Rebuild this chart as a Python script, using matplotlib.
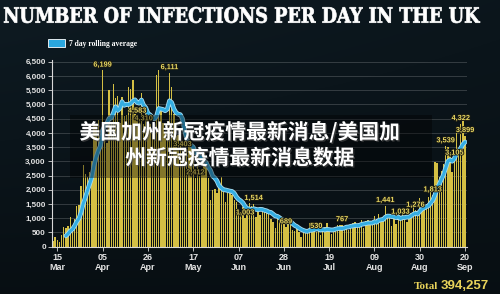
"""
Daily UK infections chart with a 7 day rolling average line.
"""

import numpy as np
import pandas as pd
import matplotlib
matplotlib.use("Agg")
import matplotlib.pyplot as plt
import matplotlib.dates as mdates
import matplotlib.patheffects as pe
from matplotlib.patches import Rectangle, PathPatch
from matplotlib.textpath import TextPath
from matplotlib.font_manager import FontProperties
from matplotlib.transforms import Affine2D


# Daily reported cases, one list per month (first day 13 Mar 2020)
START_DATE = "2020-03-13"
MAR_CASES = [208, 342, 251, 152, 407, 676, 643, 714, 1035, 665, 967, 1427,
             1452, 2129, 2885, 2546, 2433, 2619, 3009]
APR_CASES = [4324, 4244, 4450, 3735, 6199, 3802, 3634, 5491, 4344, 5706,
             5234, 5288, 4342, 5252, 4603, 4617, 5599, 5526, 5850, 4676,
             4583, 4451, 5386, 4310, 4913, 4463, 4301, 3996, 4076, 6032]
MAY_CASES = [6201, 4806, 4339, 3985, 4406, 6111, 5614, 4649, 3896, 3923,
             3877, 3403, 3242, 3446, 3560, 3451, 3534, 2412, 3412, 2472,
             2615, 3287, 2959, 2409, 1625, 2004, 2013, 1887, 2095, 2445, 1936]
JUN_CASES = [1570, 1871, 1871, 1805, 1650, 1557, 1326, 1205, 1387, 1003,
             1266, 1541, 1425, 1514, 1056, 1279, 1115, 1218, 1346, 1295,
             1221, 958, 874, 653, 1118, 1006, 890, 901, 689, 814]
JUL_CASES = [829, 576, 544, 624, 516, 352, 581, 630, 512, 820, 650, 650,
             530, 538, 404, 642, 687, 827, 580, 445, 560, 579, 769, 768,
             767, 688, 685, 581, 763, 846, 880]
AUG_CASES = [744, 743, 938, 670, 892, 950, 871, 758, 1062, 816, 1148, 1009,
             1012, 1441, 1040, 1040, 713, 1089, 812, 1182, 1033, 1288, 1041,
             853, 1048, 1184, 1522, 1276, 1108, 1715, 1406]
SEP_CASES = [1295, 1508, 1735, 1940, 1813, 2988, 2948, 2460, 2659, 2919,
             3539, 3497, 3330, 2621, 3105, 3991, 3395, 4322, 4422, 3899]

# Days whose bar carries a value label
LABELLED_DAYS = ["2020-04-05", "2020-04-21", "2020-04-24", "2020-05-06",
                 "2020-05-12", "2020-05-18", "2020-06-10", "2020-06-14",
                 "2020-06-29", "2020-07-13", "2020-07-25", "2020-08-14",
                 "2020-08-21", "2020-08-28", "2020-09-05", "2020-09-11",
                 "2020-09-15", "2020-09-18", "2020-09-20"]

Y_TICKS = list(range(0, 6501, 500))
X_TICK_DATES = pd.date_range("2020-03-15", "2020-09-20", freq="21D")

TITLE = "NUMBER OF INFECTIONS PER DAY IN THE UK"
LEGEND_TEXT = "7 day rolling average"
OVERLAY_LINES = ["美国加州新冠疫情最新消息/美国加", "州新冠疫情最新消息数据"]
TOTAL_LABEL = "Total"
TOTAL_VALUE = "394,257"

# Colours
BAR_COLOR = "#d4bf44"
LINE_COLOR = "#34ade2"
LABEL_COLOR = "#e9d862"
AXIS_COLOR = "#d8d8d8"

CJK = ["Noto Sans CJK SC", "DejaVu Sans"]

W, H = 500, 294


def draw_background(fig):
    """Dark navy backdrop."""
    bg = fig.add_axes([0, 0, 1, 1], zorder=-10)
    yy = np.linspace(0, 1, 200)[:, None]
    xx = np.linspace(0, 1, 300)[None, :]
    shade = 0.55 + 0.45 * (1 - yy) * (1 - 0.4 * xx)
    base = np.array([0.055, 0.105, 0.135])
    img = shade[..., None] * base[None, None, :]
    bg.imshow(img, aspect="auto", extent=[0, 1, 0, 1])
    bg.axis("off")


def draw_title(fig, x0, x1, y_top, y_base):
    """Title drawn as a path, squeezed to the box it fills in the picture."""
    prop = FontProperties(family="DejaVu Serif", weight="bold")
    tp = TextPath((0, 0), TITLE, size=1, prop=prop)
    ext = tp.get_extents()
    sx = ((x1 - x0) / W) / ext.width
    sy = ((y_base - y_top) / H) / ext.height
    tr = (Affine2D().translate(-ext.x0, -ext.y0).scale(sx, sy)
          .translate(x0 / W, 1 - y_base / H) + fig.transFigure)
    fig.add_artist(PathPatch(tp, transform=tr, facecolor="white",
                             edgecolor="white", lw=0.5))


def main():
    cases = MAR_CASES + APR_CASES + MAY_CASES + JUN_CASES + JUL_CASES + AUG_CASES + SEP_CASES
    dates = pd.date_range(START_DATE, periods=len(cases), freq="D")
    series = pd.Series(cases, index=dates)
    rolling = series.rolling(7).mean()

    fig = plt.figure(figsize=(5, 2.94), dpi=100)
    draw_background(fig)

    ax = fig.add_axes([0.104, 0.1609, 0.83, 0.635])
    ax.set_facecolor("none")

    ax.bar(dates, cases, width=0.64, color=BAR_COLOR, edgecolor="none", zorder=2)
    ax.plot(dates, rolling, color=LINE_COLOR, lw=2.2, zorder=4,
            solid_capstyle="round",
            path_effects=[pe.Stroke(linewidth=3.4, foreground="#a9ddf2"), pe.Normal()])

    # Value labels
    for d in LABELLED_DAYS:
        v = series[pd.Timestamp(d)]
        ax.annotate(f"{v:,}", (pd.Timestamp(d), v), xytext=(0, 1.2),
                    textcoords="offset points", ha="center", va="bottom",
                    fontsize=5.3, fontweight="bold", family="Liberation Sans",
                    color=LABEL_COLOR, zorder=5,
                    path_effects=[pe.withStroke(linewidth=1.3, foreground="#1b1b12")])

    ax.set_xlim(pd.Timestamp("2020-03-12 13:00"), pd.Timestamp("2020-09-20 21:00"))
    ax.set_ylim(0, 6560)

    ax.set_yticks(Y_TICKS)
    ax.set_yticklabels([f"{t:,}" for t in Y_TICKS])
    ax.set_xticks(X_TICK_DATES)
    ax.xaxis.set_major_formatter(mdates.DateFormatter("%d\n%b"))

    ax.yaxis.grid(True, color="white", alpha=0.2, lw=0.6)
    ax.set_axisbelow(True)

    for side in ["top", "right"]:
        ax.spines[side].set_visible(False)
    for side in ["left", "bottom"]:
        ax.spines[side].set_color(AXIS_COLOR)
        ax.spines[side].set_linewidth(0.8)

    ax.tick_params(axis="both", length=3, width=0.6, color=AXIS_COLOR, pad=1.5)
    for lab in ax.get_yticklabels():
        lab.set(fontsize=5.8, fontweight="bold", family="Liberation Sans", color="#e4e4e4")
    for lab in ax.get_xticklabels():
        lab.set(fontsize=6.5, fontweight="bold", family="Liberation Sans",
                color="#e4e4e4", linespacing=1.1)

    # Title and legend
    draw_title(fig, 4, 480, 7, 23)
    fig.add_artist(Rectangle((48 / W, 1 - 47 / H), 17 / W, 8 / H,
                             transform=fig.transFigure, facecolor="#2aa7df",
                             edgecolor="white", lw=0.6))
    fig.text(69 / W, 1 - 44 / H, LEGEND_TEXT, ha="left", va="center",
             fontsize=5.5, fontweight="bold", family="Liberation Serif", color="white")

    # Total
    fig.text(438 / W, 1 - 289 / H, TOTAL_LABEL, ha="right", va="baseline",
             fontsize=8, fontweight="bold", family="Liberation Serif", color="#e8d35a")
    fig.text(441 / W, 1 - 289 / H, TOTAL_VALUE, ha="left", va="baseline",
             fontsize=9.5, fontweight="bold", family="Liberation Sans", color="#e8d35a")

    # Overlay caption box
    fig.add_artist(Rectangle((70 / W, 1 - 178 / H), 362 / W, 63 / H,
                             transform=fig.transFigure, facecolor="black",
                             alpha=0.38, edgecolor="none", zorder=5))
    for i, line in enumerate(OVERLAY_LINES):
        fig.text(240 / W, 1 - (132 + 26 * i) / H, line, ha="center", va="center",
                 fontsize=15, fontweight="bold", family=CJK, color="white", zorder=6,
                 path_effects=[pe.withSimplePatchShadow(offset=(1, -1), alpha=0.6)])

    fig.savefig("out.png", dpi=100, facecolor="#0d1a22")
    plt.close(fig)


if __name__ == "__main__":
    main()
